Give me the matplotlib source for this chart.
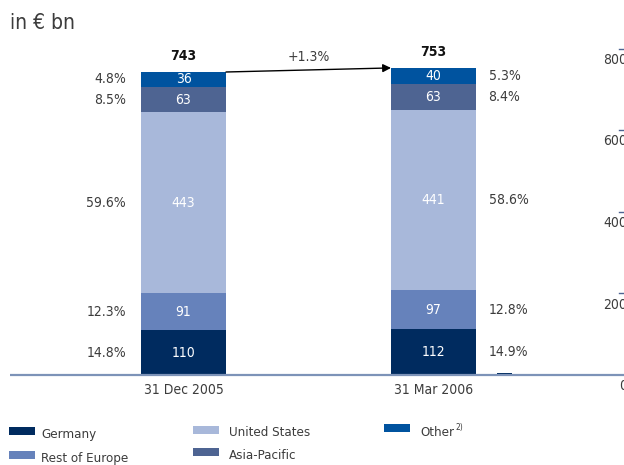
import matplotlib
matplotlib.use('Agg')
import matplotlib.pyplot as plt
from matplotlib.patches import Rectangle

plt.rcParams['font.family'] = ['DejaVu Sans']
plt.rcParams['font.stretch'] = 'condensed'

# data (in EUR bn)
dates = ['31 Dec 2005', '31 Mar 2006']
regions = ['Germany', 'Rest of Europe', 'United States', 'Asia-Pacific', 'Other']
germany = [110, 112]
rest_of_europe = [91, 97]
united_states = [443, 441]
asia_pacific = [63, 63]
other = [36, 40]
totals = [743, 753]
shares_2005 = ['14.8%', '12.3%', '59.6%', '8.5%', '4.8%']
shares_2006 = ['14.9%', '12.8%', '58.6%', '8.4%', '5.3%']
change = '+1.3%'
# ticks of the neighbouring chart, cut off at the right edge
other_ticks = [0, 200, 400, 600, 800]

colors = ['#002b5f', '#6682bb', '#a8b8da', '#4e6492', '#00539f']
grey = '#3c3c3c'

W, H = 624, 465
fig = plt.figure(figsize=(W / 100, H / 100), dpi=100)

px_per_unit = 303 / 743.0
base_px = 375
ax = fig.add_axes([0, (H - base_px) / H, 1, base_px / H])
ax.set_ylim(0, base_px / px_per_unit)
ax.set_xlim(-183.5 / 250, (W - 183.5) / 250)
ax.axis('off')

series = [germany, rest_of_europe, united_states, asia_pacific, other]
width = 0.34
x = [0, 1]
bottoms = [0, 0]
for s, col in zip(series, colors):
    ax.bar(x, s, width, bottom=bottoms, color=col, linewidth=0)
    for i in range(2):
        mid = bottoms[i] + s[i] / 2.0
        ax.text(x[i], mid, str(s[i]), color='white', ha='center', va='center', fontsize=10)
    bottoms = [bottoms[i] + s[i] for i in range(2)]

# share labels
b0 = 0
b1 = 0
for k, s in enumerate(series):
    ax.text(-0.23, b0 + s[0] / 2.0, shares_2005[k], ha='right', va='center', fontsize=10, color=grey)
    ax.text(1.22, b1 + s[1] / 2.0, shares_2006[k], ha='left', va='center', fontsize=10, color=grey)
    b0 += s[0]
    b1 += s[1]

# totals
for i in range(2):
    ax.text(x[i], totals[i] + 22, str(totals[i]), ha='center', va='bottom', fontsize=10,
            fontweight='bold', color='#111111')

ax.annotate('', xy=(1 - width / 2, totals[1]), xytext=(width / 2, totals[0]),
            arrowprops=dict(arrowstyle='-|>', color='black', lw=1, shrinkA=0, shrinkB=0,
                            mutation_scale=12))
ax.text(0.5, totals[0] + 19, change, ha='center', va='bottom', fontsize=10, color=grey)

# baseline
ax.plot([-0.694, 1.8], [0, 0], color='#7d93b8', lw=1.6, clip_on=False, solid_capstyle='butt')

# date labels
for i in range(2):
    ax.text(x[i], -38, dates[i], ha='center', va='center', fontsize=10, color=grey)

# neighbouring chart fragments
ax.bar([1.285], [6], 0.06, color=colors[0], linewidth=0)
for t in other_ticks:
    if t > 0:
        ax.plot([1.742, 1.8], [t, t], color='#4e6492', lw=1, clip_on=False)
    ax.text(1.775, t - 10, str(t), ha='right', va='top', fontsize=10, color=grey)

fig.text(10 / W, 1 - 23 / H, 'in \u20ac bn', ha='left', va='center', fontsize=15, color=grey)

# legend
legend_pos = [(9, 431, 41, 434), (9, 455, 41, 458), (193, 430, 229, 432),
              (193, 452, 229, 455), (384, 428, 420, 432)]
last = None
for name, col, (px, py, tx, ty) in zip(regions, colors, legend_pos):
    fig.patches.append(Rectangle((px / W, 1 - (py + 4) / H), 26 / W, 8 / H,
                                 transform=fig.transFigure, color=col, linewidth=0))
    last = fig.text(tx / W, 1 - ty / H, name, ha='left', va='center', fontsize=9.5, color=grey)
fig.canvas.draw()
bb = last.get_window_extent()
fig.text((bb.x1 + 1) / W, 1 - 427 / H, '2)', ha='left', va='center', fontsize=6, color=grey)

fig.savefig('out.png', dpi=100)
